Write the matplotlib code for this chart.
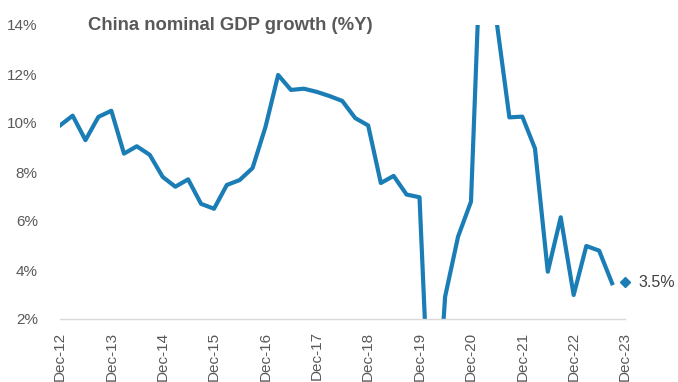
import matplotlib
matplotlib.use("Agg")
import matplotlib.pyplot as plt
import matplotlib.dates as mdates
from matplotlib.ticker import FuncFormatter
import pandas as pd

# quarterly nominal GDP growth, %Y, Dec-12 .. Sep-23
quarters = pd.date_range("2012-12-31", periods=44, freq="QE")
growth = [9.9, 10.3, 9.3, 10.25, 10.5, 8.75, 9.05, 8.7, 7.8, 7.4, 7.7, 6.7,
          6.5, 7.47, 7.67, 8.16, 9.84, 11.96, 11.35, 11.4, 11.27, 11.1, 10.9, 10.2,
          9.9, 7.55, 7.84, 7.08, 6.97, -5.0, 2.91, 5.36, 6.79, 20.5, 14.2, 10.23,
          10.26, 8.96, 3.93, 6.15, 2.98, 4.98, 4.79, 3.46]

# latest estimate, shown as a single marker
last_date = pd.Timestamp("2023-12-31")
last_value = 3.5

blue = "#1a7db6"
grey = "#595959"
plt.rcParams["font.family"] = ["Liberation Sans", "DejaVu Sans"]

fig = plt.figure(figsize=(6.78, 3.82), dpi=100)
ax = fig.add_axes([60 / 678, 1 - 319 / 382, 565 / 678, 294 / 382])

ax.plot(quarters, growth, color=blue, lw=3)
ax.plot([last_date], [last_value], marker="D", ms=5.5, color=blue, mec=blue,
        clip_on=False, zorder=4)
ax.annotate(f"{last_value:.1f}%", (last_date, last_value), xytext=(10, 0),
            textcoords="offset points", va="center", ha="left",
            fontsize=11.5, color="#404040", annotation_clip=False)

ax.set_xlim(quarters[0], last_date)
ax.set_ylim(2, 14)
ax.set_yticks(range(2, 15, 2))
ax.yaxis.set_major_formatter(FuncFormatter(lambda v, p: f"{v:.0f}%"))

ax.set_xticks(list(quarters[::4]) + [last_date])
ax.xaxis.set_major_formatter(mdates.DateFormatter("%b-%y"))
for lab in ax.get_xticklabels():
    lab.set_rotation(90)

ax.tick_params(axis="both", length=0, labelsize=11, labelcolor=grey)
ax.tick_params(axis="y", pad=16)
ax.tick_params(axis="x", pad=9)

for side in ["top", "right", "left"]:
    ax.spines[side].set_visible(False)
ax.spines["bottom"].set_color("#d9d9d9")
ax.spines["bottom"].set_linewidth(1)

fig.text(88 / 678, 1 - 26 / 382, "China nominal GDP growth (%Y)",
         fontsize=13.3, fontweight="bold", color=grey, va="center", ha="left")

fig.savefig("out.png", dpi=100)
